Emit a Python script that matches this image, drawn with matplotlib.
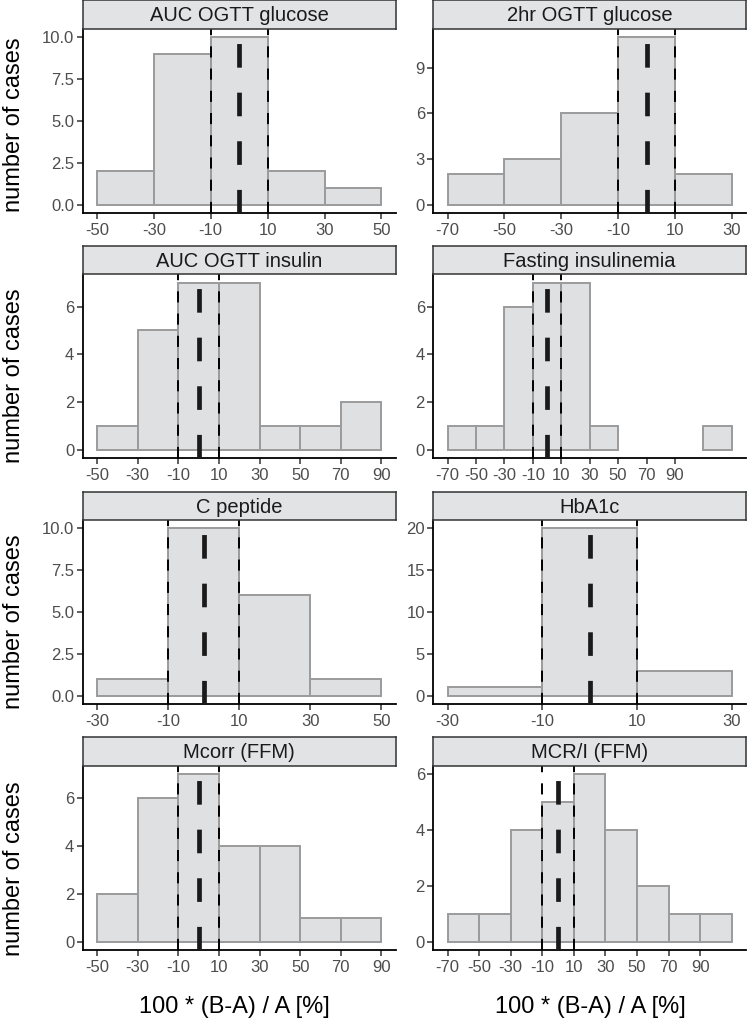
import matplotlib
matplotlib.use('Agg')
import matplotlib.pyplot as plt

plt.rcParams['font.family'] = ['Liberation Sans', 'DejaVu Sans']
plt.rcParams['lines.scale_dashes'] = False

W, H = 747, 1021

BAR_FILL = '#dfe0e2'
BAR_EDGE = '#9b9b9b'
STRIP_FILL = '#e2e3e5'
TICK_GRAY = '#4d4d4d'
DARK = '#1a1a1a'

# histogram data: left bin edges (bin width 20) and counts
titles = ['AUC OGTT glucose', '2hr OGTT glucose', 'AUC OGTT insulin', 'Fasting insulinemia',
          'C peptide', 'HbA1c', 'Mcorr (FFM)', 'MCR/I (FFM)']

auc_glucose_edges = [-50, -30, -10, 10, 30]
auc_glucose_counts = [2, 9, 10, 2, 1]
glucose_2hr_edges = [-70, -50, -30, -10, 10]
glucose_2hr_counts = [2, 3, 6, 11, 2]
auc_insulin_edges = [-50, -30, -10, 10, 30, 50, 70]
auc_insulin_counts = [1, 5, 7, 7, 1, 1, 2]
fasting_edges = [-70, -50, -30, -10, 10, 30, 110]
fasting_counts = [1, 1, 6, 7, 7, 1, 1]
cpeptide_edges = [-30, -10, 10, 30]
cpeptide_counts = [1, 10, 6, 1]
hba1c_edges = [-30, -10, 10]
hba1c_counts = [1, 20, 3]
mcorr_edges = [-50, -30, -10, 10, 30, 50, 70]
mcorr_counts = [2, 6, 7, 4, 4, 1, 1]
mcri_edges = [-70, -50, -30, -10, 10, 30, 50, 70, 90]
mcri_counts = [1, 1, 4, 5, 6, 4, 2, 1, 1]

bin_width = 20
band = [-10, 10]
center = 0

x_ticks = [
    [-50, -30, -10, 10, 30, 50],
    [-70, -50, -30, -10, 10, 30],
    [-50, -30, -10, 10, 30, 50, 70, 90],
    [-70, -50, -30, -10, 10, 30, 50, 70, 90],
    [-30, -10, 10, 30, 50],
    [-30, -10, 10, 30],
    [-50, -30, -10, 10, 30, 50, 70, 90],
    [-70, -50, -30, -10, 10, 30, 50, 70, 90],
]
y_ticks = [
    [0, 2.5, 5, 7.5, 10],
    [0, 3, 6, 9],
    [0, 2, 4, 6],
    [0, 2, 4, 6],
    [0, 2.5, 5, 7.5, 10],
    [0, 5, 10, 15, 20],
    [0, 2, 4, 6],
    [0, 2, 4, 6],
]
y_fmt = ['{:.1f}', '{:g}', '{:g}', '{:g}', '{:.1f}', '{:g}', '{:g}', '{:g}']

data = [
    (auc_glucose_edges, auc_glucose_counts),
    (glucose_2hr_edges, glucose_2hr_counts),
    (auc_insulin_edges, auc_insulin_counts),
    (fasting_edges, fasting_counts),
    (cpeptide_edges, cpeptide_counts),
    (hba1c_edges, hba1c_counts),
    (mcorr_edges, mcorr_counts),
    (mcri_edges, mcri_counts),
]


def box(x0, y0, x1, y1):
    return [x0 / W, 1 - y1 / H, (x1 - x0) / W, (y1 - y0) / H]


cols = [(82.7, 395.7), (433.3, 746.0)]
rows = [(28.7, 213.0), (274.3, 458.3), (520.0, 704.0), (765.7, 950.0)]
strip_h = 28.4
ylab_y = [125, 376, 622, 869]

fig = plt.figure(figsize=(W / 100, H / 100), dpi=100)
fig.patch.set_facecolor('white')

for i, (title, (edges, counts)) in enumerate(zip(titles, data)):
    r, c = divmod(i, 2)
    x0, x1 = cols[c]
    y0, y1 = rows[r]
    ax = fig.add_axes(box(x0, y0, x1, y1))
    ax.bar(edges, counts, width=bin_width, align='edge', color=BAR_FILL,
           edgecolor=BAR_EDGE, linewidth=1.4, zorder=1)
    for b in band:
        ax.axvline(b, color='black', linewidth=1.4, dashes=(8, 8), zorder=3)
    ax.axvline(center, color=DARK, linewidth=3.4, dashes=(17, 18), zorder=4)

    lo, hi = min(edges), max(edges) + bin_width
    pad = 0.05 * (hi - lo)
    ax.set_xlim(lo - pad, hi + pad)
    top = max(counts)
    ax.set_ylim(-0.05 * top, 1.05 * top)

    ax.set_xticks(x_ticks[i])
    ax.set_xticklabels([str(v) for v in x_ticks[i]])
    ax.set_yticks(y_ticks[i])
    ax.set_yticklabels([y_fmt[i].format(v) for v in y_ticks[i]])
    ax.tick_params(axis='both', labelsize=12, labelcolor=TICK_GRAY, color='#333333',
                   length=4, width=1.1)
    ax.tick_params(axis='x', pad=3)
    ax.tick_params(axis='y', pad=2)
    ax.spines['top'].set_visible(False)
    ax.spines['right'].set_visible(False)
    ax.spines['left'].set_linewidth(1.3)
    ax.spines['bottom'].set_linewidth(1.3)
    ax.spines['left'].set_color('black')
    ax.spines['bottom'].set_color('black')

    sax = fig.add_axes(box(x0, y0 - strip_h, x1, y0))
    sax.set_facecolor(STRIP_FILL)
    sax.set_xticks([])
    sax.set_yticks([])
    for s in sax.spines.values():
        s.set_color('#333333')
        s.set_linewidth(1.1)
    sax.text(0.5, 0.45, title, ha='center', va='center', fontsize=14.5,
             color=DARK, transform=sax.transAxes)

for y in ylab_y:
    fig.text(14 / W, 1 - y / H, 'number of cases', rotation=90, ha='center',
             va='center', fontsize=17, color='black')

for x in (234, 590):
    fig.text(x / W, 1 - 1007 / H, '100 * (B-A) / A [%]', ha='center', va='center',
             fontsize=17, color='black')

fig.savefig('out.png', dpi=100, facecolor='white')
plt.close(fig)
